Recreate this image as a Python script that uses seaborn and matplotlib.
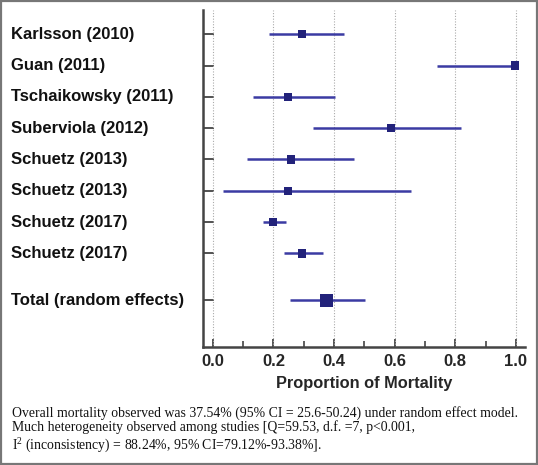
import numpy as np
import pandas as pd
import seaborn as sns
import matplotlib.pyplot as plt
import matplotlib.transforms as mtransforms
from matplotlib.patches import Rectangle

# Study data
studies = ["Karlsson (2010)", "Guan (2011)", "Tschaikowsky (2011)", "Suberviola (2012)",
           "Schuetz (2013)", "Schuetz (2013)", "Schuetz (2017)", "Schuetz (2017)",
           "Total (random effects)"]
estimate = [0.295, 0.997, 0.249, 0.587, 0.259, 0.249, 0.198, 0.295, 0.375]
ci_low = [0.186, 0.738, 0.134, 0.332, 0.114, 0.035, 0.165, 0.234, 0.256]
ci_high = [0.434, 1.0, 0.403, 0.817, 0.465, 0.653, 0.243, 0.365, 0.502]
xticks = [0.0, 0.2, 0.4, 0.6, 0.8, 1.0]

footer = ("Overall mortality observed was 37.54% (95% CI = 25.6-50.24) under random effect model.\n"
          "Much heterogeneity observed among studies [Q=59.53, d.f. =7, p<0.001,\n"
          "I$^2$ (inconsistency) = 88.24%, 95% CI=79.12%-93.38%].")

sns.set_style("white")
plt.rcParams['font.family'] = ['Liberation Sans', 'DejaVu Sans']
plt.rcParams['mathtext.fontset'] = 'custom'
plt.rcParams['mathtext.rm'] = 'Liberation Serif'

# rows are evenly spaced, the pooled row sits a bit lower
ypos = list(range(len(studies) - 1)) + [len(studies) - 0.5]
df = pd.DataFrame({"study": studies, "est": estimate, "lo": ci_low, "hi": ci_high, "y": ypos})
df["kind"] = ["study"] * (len(studies) - 1) + ["total"]

fig = plt.figure(figsize=(5.38, 4.65), dpi=100)
ax = fig.add_axes([0.378, 0.254, 0.598, 0.724])

line_col = "#3b3ba3"
mark_col = "#22227a"

ax.hlines(df["y"], df["lo"], df["hi"], color=line_col, lw=1.8, zorder=2)
sns.scatterplot(data=df, x="est", y="y", size="kind", sizes={"study": 36, "total": 95},
                marker="s", color=mark_col, edgecolor=mark_col, linewidth=0,
                legend=False, ax=ax, zorder=3)

ax.set_xlim(-0.031, 1.03)
ax.set_ylim(ypos[-1] + 1.49, -0.77)
ax.set_xticks(xticks)
ax.set_xticklabels([f"{t:.1f}" for t in xticks], fontsize=12, fontweight="bold")
ax.set_xticks(np.arange(0.1, 1.0, 0.2), minor=True)
ax.set_yticks(ypos)
ax.set_yticklabels([])
ax.set_ylabel("")
ax.set_xlabel("Proportion of Mortality", fontsize=11.8, fontweight="bold", labelpad=5)

for x in xticks:
    ax.axvline(x, color="#aaaaaa", lw=0.8, ls=(0, (1, 1.5)), zorder=1)

for side in ["top", "right"]:
    ax.spines[side].set_visible(False)
for side in ["left", "bottom"]:
    ax.spines[side].set_color("#444444")
    ax.spines[side].set_linewidth(1.8)

ax.tick_params(axis="y", left=True, direction="in", length=8, width=1.3, color="#444444")
ax.tick_params(axis="x", which="major", bottom=True, direction="in", length=6, width=1.3,
               color="#444444", pad=5)
ax.tick_params(axis="x", which="minor", bottom=True, direction="in", length=4, width=1.2,
               color="#444444")

# study labels on the left
trans = mtransforms.blended_transform_factory(fig.transFigure, ax.transData)
for lab, y in zip(studies, ypos):
    ax.text(11 / 538, y, lab, transform=trans, ha="left", va="center",
            fontsize=12, fontweight="bold", color="#111111")

fig.text(12 / 538, 1 - 406 / 465, footer, ha="left", va="top", fontsize=9.9,
         family=["Liberation Serif", "DejaVu Serif"], linespacing=1.05, color="#111111")

fig.patches.append(Rectangle((0.002, 0.002), 0.996, 0.996, transform=fig.transFigure,
                             fill=False, edgecolor="#777777", lw=1.6))

fig.savefig("out.png", dpi=100)
